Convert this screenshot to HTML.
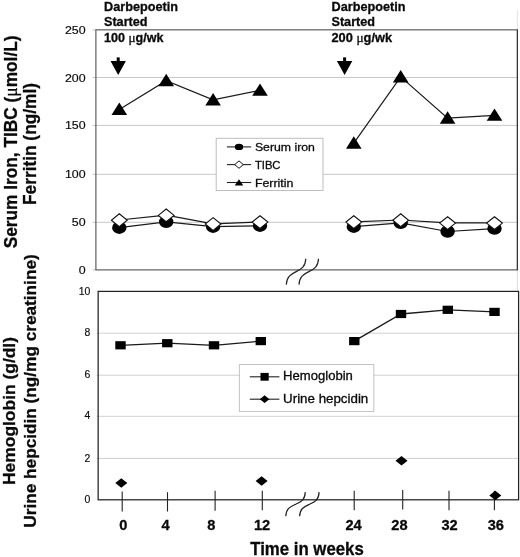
<!DOCTYPE html><html><head><meta charset="utf-8"><title>chart</title>
<style>html,body{margin:0;padding:0;background:#fff}svg{display:block;will-change:transform}text{font-family:"Liberation Sans",sans-serif;fill:#0a0a0a;stroke:#0a0a0a;stroke-width:0.3px}</style></head><body>
<svg width="520" height="557" viewBox="0 0 520 557">
<rect width="520" height="557" fill="#fff"/>
<line x1="95.9" x2="517.4" y1="222.3" y2="222.3" stroke="#c8c8c8" stroke-width="1"/>
<line x1="95.9" x2="517.4" y1="174.3" y2="174.3" stroke="#c8c8c8" stroke-width="1"/>
<line x1="95.9" x2="517.4" y1="125.4" y2="125.4" stroke="#c8c8c8" stroke-width="1"/>
<line x1="95.9" x2="517.4" y1="77.5" y2="77.5" stroke="#c8c8c8" stroke-width="1"/>
<line x1="92.4" x2="95.9" y1="269.9" y2="269.9" stroke="#c4c4c4" stroke-width="1"/>
<line x1="92.4" x2="95.9" y1="222.3" y2="222.3" stroke="#c4c4c4" stroke-width="1"/>
<line x1="92.4" x2="95.9" y1="174.3" y2="174.3" stroke="#c4c4c4" stroke-width="1"/>
<line x1="92.4" x2="95.9" y1="125.4" y2="125.4" stroke="#c4c4c4" stroke-width="1"/>
<line x1="92.4" x2="95.9" y1="77.5" y2="77.5" stroke="#c4c4c4" stroke-width="1"/>
<line x1="92.4" x2="95.9" y1="29.9" y2="29.9" stroke="#c4c4c4" stroke-width="1"/>
<line x1="517.4" x2="517.4" y1="269.9" y2="291.4" stroke="#ddd" stroke-width="1"/>
<line x1="517.4" x2="517.4" y1="10" y2="29.85" stroke="#e4e4e4" stroke-width="1"/>
<rect x="95.9" y="29.85" width="421.5" height="240.04999999999998" fill="none" stroke="#484848" stroke-width="1.05"/>
<line x1="517.4" x2="517.4" y1="29.85" y2="269.9" stroke="#333" stroke-width="1.2"/>
<text x="85.6" y="273.9" font-size="10.4" style="stroke-width:0.15px" text-anchor="end" textLength="6.9" lengthAdjust="spacingAndGlyphs">0</text>
<text x="85.6" y="226.3" font-size="10.4" style="stroke-width:0.15px" text-anchor="end" textLength="13.8" lengthAdjust="spacingAndGlyphs">50</text>
<text x="85.6" y="178.3" font-size="10.4" style="stroke-width:0.15px" text-anchor="end" textLength="20.7" lengthAdjust="spacingAndGlyphs">100</text>
<text x="85.6" y="129.4" font-size="10.4" style="stroke-width:0.15px" text-anchor="end" textLength="20.7" lengthAdjust="spacingAndGlyphs">150</text>
<text x="85.6" y="81.5" font-size="10.4" style="stroke-width:0.15px" text-anchor="end" textLength="20.7" lengthAdjust="spacingAndGlyphs">200</text>
<text x="85.6" y="33.9" font-size="10.4" style="stroke-width:0.15px" text-anchor="end" textLength="20.7" lengthAdjust="spacingAndGlyphs">250</text>
<line x1="96.65" x2="518.6" y1="458.4" y2="458.4" stroke="#d0d0d0" stroke-width="1"/>
<line x1="96.65" x2="518.6" y1="416.3" y2="416.3" stroke="#d0d0d0" stroke-width="1"/>
<line x1="96.65" x2="518.6" y1="375.2" y2="375.2" stroke="#d0d0d0" stroke-width="1"/>
<line x1="96.65" x2="518.6" y1="333.2" y2="333.2" stroke="#d0d0d0" stroke-width="1"/>
<rect x="98.15" y="291.4" width="420.45000000000005" height="208.40000000000003" fill="none" stroke="#222" stroke-width="1.25"/>
<text x="90.3" y="503.0" font-size="10" style="stroke-width:0.15px" text-anchor="end" textLength="5.8" lengthAdjust="spacingAndGlyphs">0</text>
<text x="90.3" y="461.5" font-size="10" style="stroke-width:0.15px" text-anchor="end" textLength="5.8" lengthAdjust="spacingAndGlyphs">2</text>
<text x="90.3" y="419.4" font-size="10" style="stroke-width:0.15px" text-anchor="end" textLength="5.8" lengthAdjust="spacingAndGlyphs">4</text>
<text x="90.3" y="378.3" font-size="10" style="stroke-width:0.15px" text-anchor="end" textLength="5.8" lengthAdjust="spacingAndGlyphs">6</text>
<text x="90.3" y="336.3" font-size="10" style="stroke-width:0.15px" text-anchor="end" textLength="5.8" lengthAdjust="spacingAndGlyphs">8</text>
<text x="90.3" y="294.5" font-size="10" style="stroke-width:0.15px" text-anchor="end" textLength="11.6" lengthAdjust="spacingAndGlyphs">10</text>
<line x1="122.2" x2="122.2" y1="491.6" y2="511.5" stroke="#222" stroke-width="1.1"/>
<line x1="167.5" x2="167.5" y1="492.2" y2="511.5" stroke="#222" stroke-width="1.1"/>
<line x1="215.1" x2="215.1" y1="490.8" y2="510.7" stroke="#222" stroke-width="1.1"/>
<line x1="262.3" x2="262.3" y1="490.8" y2="510.3" stroke="#222" stroke-width="1.1"/>
<line x1="354.2" x2="354.2" y1="490.8" y2="510.2" stroke="#222" stroke-width="1.1"/>
<line x1="402.7" x2="402.7" y1="489.9" y2="509.5" stroke="#222" stroke-width="1.1"/>
<line x1="449.0" x2="449.0" y1="490.8" y2="510.2" stroke="#222" stroke-width="1.1"/>
<line x1="494.4" x2="494.4" y1="490.8" y2="510.2" stroke="#222" stroke-width="1.1"/>
<text x="123.4" y="529.9" font-size="14.6" font-weight="bold" text-anchor="middle">0</text>
<text x="165.5" y="529.9" font-size="14.6" font-weight="bold" text-anchor="middle">4</text>
<text x="211.4" y="529.9" font-size="14.6" font-weight="bold" text-anchor="middle">8</text>
<text x="262.0" y="529.9" font-size="14.6" font-weight="bold" text-anchor="middle">12</text>
<text x="353.5" y="529.9" font-size="14.6" font-weight="bold" text-anchor="middle">24</text>
<text x="399.4" y="529.9" font-size="14.6" font-weight="bold" text-anchor="middle">28</text>
<text x="449.6" y="529.9" font-size="14.6" font-weight="bold" text-anchor="middle">32</text>
<text x="495.8" y="529.9" font-size="14.6" font-weight="bold" text-anchor="middle">36</text>
<path d="M286.3 284.6 C286.7 276.6 290.8 274.2 296.2 271.6 S305.4 266.7 305.8 258.7" fill="none" stroke="#222" stroke-width="1.2"/>
<path d="M299.0 284.6 C299.4 276.6 303.4 274.2 308.9 271.6 S318.1 266.7 318.5 258.7" fill="none" stroke="#222" stroke-width="1.2"/>
<path d="M285.8 516.3 C286.2 508.3 290.2 506.8 295.8 504.2 S304.9 500.1 305.3 492.1" fill="none" stroke="#222" stroke-width="1.2"/>
<path d="M299.6 516.3 C300.0 508.3 304.1 506.8 309.6 504.2 S318.7 500.1 319.1 492.1" fill="none" stroke="#222" stroke-width="1.2"/>
<polyline points="119.3,109.5 166.2,80.7 213.1,99.9 260.0,90.3" fill="none" stroke="#1a1a1a" stroke-width="1.2"/>
<polygon points="119.3,102.6 127.1,115.0 111.5,115.0" fill="#000"/>
<polygon points="166.2,73.8 174.0,86.2 158.4,86.2" fill="#000"/>
<polygon points="213.1,93.0 220.9,105.4 205.3,105.4" fill="#000"/>
<polygon points="260.0,83.4 267.8,95.8 252.2,95.8" fill="#000"/>
<polyline points="353.8,143.2 400.7,76.9 447.6,118.2 494.5,115.3" fill="none" stroke="#1a1a1a" stroke-width="1.2"/>
<polygon points="353.8,136.3 361.6,148.7 346.0,148.7" fill="#000"/>
<polygon points="400.7,70.0 408.5,82.4 392.9,82.4" fill="#000"/>
<polygon points="447.6,111.3 455.4,123.7 439.8,123.7" fill="#000"/>
<polygon points="494.5,108.4 502.3,120.8 486.7,120.8" fill="#000"/>
<polyline points="119.3,227.7 166.2,221.9 213.1,226.7 260.0,225.7" fill="none" stroke="#1a1a1a" stroke-width="1.2"/>
<ellipse cx="119.3" cy="227.7" rx="7.2" ry="6.2" fill="#000"/>
<ellipse cx="166.2" cy="221.9" rx="7.2" ry="6.2" fill="#000"/>
<ellipse cx="213.1" cy="226.7" rx="7.2" ry="6.2" fill="#000"/>
<ellipse cx="260.0" cy="225.7" rx="7.2" ry="6.2" fill="#000"/>
<polyline points="353.8,226.7 400.7,222.9 447.6,231.5 494.5,228.6" fill="none" stroke="#1a1a1a" stroke-width="1.2"/>
<ellipse cx="353.8" cy="226.7" rx="7.2" ry="6.2" fill="#000"/>
<ellipse cx="400.7" cy="222.9" rx="7.2" ry="6.2" fill="#000"/>
<ellipse cx="447.6" cy="231.5" rx="7.2" ry="6.2" fill="#000"/>
<ellipse cx="494.5" cy="228.6" rx="7.2" ry="6.2" fill="#000"/>
<polyline points="119.3,220.0 166.2,215.2 213.1,223.8 260.0,221.9" fill="none" stroke="#1a1a1a" stroke-width="1.2"/>
<polygon points="119.3,213.8 127.2,220.2 119.3,226.6 111.4,220.2" fill="#fff" stroke="#111" stroke-width="1.1"/>
<polygon points="166.2,209.0 174.1,215.4 166.2,221.8 158.3,215.4" fill="#fff" stroke="#111" stroke-width="1.1"/>
<polygon points="213.1,217.6 221.0,224.0 213.1,230.4 205.2,224.0" fill="#fff" stroke="#111" stroke-width="1.1"/>
<polygon points="260.0,215.7 267.9,222.1 260.0,228.5 252.1,222.1" fill="#fff" stroke="#111" stroke-width="1.1"/>
<polyline points="353.8,221.9 400.7,220.0 447.6,222.9 494.5,222.9" fill="none" stroke="#1a1a1a" stroke-width="1.2"/>
<polygon points="353.8,215.7 361.7,222.1 353.8,228.5 345.9,222.1" fill="#fff" stroke="#111" stroke-width="1.1"/>
<polygon points="400.7,213.8 408.6,220.2 400.7,226.6 392.8,220.2" fill="#fff" stroke="#111" stroke-width="1.1"/>
<polygon points="447.6,216.7 455.5,223.1 447.6,229.5 439.7,223.1" fill="#fff" stroke="#111" stroke-width="1.1"/>
<polygon points="494.5,216.7 502.4,223.1 494.5,229.5 486.6,223.1" fill="#fff" stroke="#111" stroke-width="1.1"/>
<rect x="116.7" y="57.4" width="3" height="5" fill="#000"/>
<polygon points="110.5,61.0 125.9,61.0 118.2,74.9" fill="#000"/>
<rect x="343.1" y="57.4" width="3" height="5" fill="#000"/>
<polygon points="336.90000000000003,61.0 352.3,61.0 344.6,74.9" fill="#000"/>
<text x="104.0" y="11.3" font-size="12.4" font-weight="bold" textLength="74" lengthAdjust="spacingAndGlyphs">Darbepoetin</text>
<text x="104.0" y="26.2" font-size="12.4" font-weight="bold" textLength="43.5" lengthAdjust="spacingAndGlyphs">Started</text>
<text x="104.0" y="41.9" font-size="12.4" font-weight="bold" textLength="59.4" lengthAdjust="spacingAndGlyphs">100 <tspan font-family="Liberation Serif" font-weight="normal" font-size="13">μ</tspan>g/wk</text>
<text x="331.5" y="11.3" font-size="12.4" font-weight="bold" textLength="74" lengthAdjust="spacingAndGlyphs">Darbepoetin</text>
<text x="331.5" y="26.2" font-size="12.4" font-weight="bold" textLength="43.5" lengthAdjust="spacingAndGlyphs">Started</text>
<text x="331.5" y="41.9" font-size="12.4" font-weight="bold" textLength="60.6" lengthAdjust="spacingAndGlyphs">200 <tspan font-family="Liberation Serif" font-weight="normal" font-size="13">μ</tspan>g/wk</text>
<rect x="216.2" y="138.3" width="106.8" height="52.2" fill="#fff" stroke="#bdbdbd" stroke-width="1"/>
<line x1="226.9" x2="251.2" y1="146.9" y2="146.9" stroke="#222" stroke-width="1.1"/>
<text x="254.9" y="151.0" font-size="11.8" textLength="60.0" lengthAdjust="spacingAndGlyphs">Serum iron</text>
<line x1="226.9" x2="251.2" y1="164.6" y2="164.6" stroke="#222" stroke-width="1.1"/>
<text x="254.9" y="168.7" font-size="11.8" textLength="25.6" lengthAdjust="spacingAndGlyphs">TIBC</text>
<line x1="226.9" x2="251.2" y1="182.5" y2="182.5" stroke="#222" stroke-width="1.1"/>
<text x="254.9" y="186.6" font-size="11.8" textLength="38.5" lengthAdjust="spacingAndGlyphs">Ferritin</text>
<ellipse cx="239" cy="146.9" rx="4.2" ry="3.2" fill="#000"/>
<polygon points="239,160.9 243.3,164.6 239,168.3 234.7,164.6" fill="#fff" stroke="#111" stroke-width="1"/>
<polygon points="239,179.2 243.3,185.6 234.7,185.6" fill="#000"/>
<polyline points="120.5,345.3 167.2,343.2 214.0,345.3 260.8,341.1" fill="none" stroke="#1a1a1a" stroke-width="1.3"/>
<rect x="115.3" y="341.2" width="10.4" height="8.2" fill="#000"/>
<rect x="162.1" y="339.1" width="10.4" height="8.2" fill="#000"/>
<rect x="208.8" y="341.2" width="10.4" height="8.2" fill="#000"/>
<rect x="255.6" y="337.0" width="10.4" height="8.2" fill="#000"/>
<polyline points="354.2,341.1 401.0,314.0 447.8,309.8 494.5,311.9" fill="none" stroke="#1a1a1a" stroke-width="1.3"/>
<rect x="349.1" y="337.0" width="10.4" height="8.2" fill="#000"/>
<rect x="395.8" y="309.9" width="10.4" height="8.2" fill="#000"/>
<rect x="442.6" y="305.7" width="10.4" height="8.2" fill="#000"/>
<rect x="489.3" y="307.8" width="10.4" height="8.2" fill="#000"/>
<polygon points="121.3,478.2 127.3,483.0 121.3,487.8 115.3,483.0" fill="#000"/>
<polygon points="261.6,476.2 267.6,481.0 261.6,485.8 255.6,481.0" fill="#000"/>
<polygon points="401.5,455.9 407.5,460.7 401.5,465.5 395.5,460.7" fill="#000"/>
<polygon points="495.3,490.7 501.3,495.5 495.3,500.3 489.3,495.5" fill="#000"/>
<rect x="239.4" y="364.5" width="134.4" height="47" fill="#fff" stroke="#c4c4c4" stroke-width="1"/>
<line x1="249.8" x2="279.4" y1="376.8" y2="376.8" stroke="#222" stroke-width="1.1"/>
<rect x="260.5" y="372.9" width="8.2" height="7.8" fill="#000"/>
<text x="283.1" y="379.7" font-size="12.2" textLength="69.8" lengthAdjust="spacingAndGlyphs">Hemoglobin</text>
<line x1="249.8" x2="279.4" y1="399.2" y2="399.2" stroke="#222" stroke-width="1.1"/>
<polygon points="264.6,395.3 269.4,399.2 264.6,403.1 259.8,399.2" fill="#000"/>
<text x="283.1" y="402.6" font-size="12.2" textLength="85.2" lengthAdjust="spacingAndGlyphs">Urine hepcidin</text>
<text x="307" y="555.0" font-size="17.8" font-weight="bold" text-anchor="middle" textLength="113.6" lengthAdjust="spacingAndGlyphs">Time in weeks</text>
<text transform="translate(16.7,248.3) rotate(-90)" font-size="17.7" font-weight="bold" textLength="212.8" lengthAdjust="spacingAndGlyphs">Serum Iron, TIBC (<tspan font-family="Liberation Serif" font-weight="normal" font-size="18">μ</tspan>mol/L)</text>
<text transform="translate(36.3,205) rotate(-90)" font-size="17.7" font-weight="bold" textLength="122" lengthAdjust="spacingAndGlyphs">Ferritin (ng/ml)</text>
<text transform="translate(15.0,485) rotate(-90)" font-size="16.4" font-weight="bold" textLength="148" lengthAdjust="spacingAndGlyphs">Hemoglobin (g/dl)</text>
<text transform="translate(35.9,527.7) rotate(-90)" font-size="16.4" font-weight="bold" textLength="273.4" lengthAdjust="spacingAndGlyphs">Urine hepcidin (ng/mg creatinine)</text>
</svg></body></html>
